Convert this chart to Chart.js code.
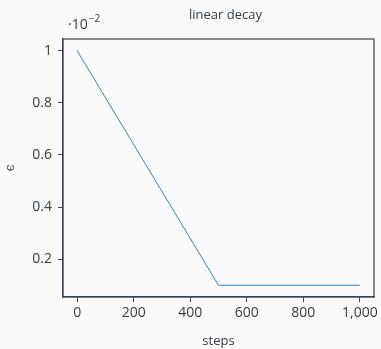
<!DOCTYPE html>
<html><head><meta charset="utf-8">
<script src="https://cdn.jsdelivr.net/npm/chart.js@4/dist/chart.umd.min.js"></script>
<style>html,body{margin:0;padding:0;background:#fafafa;}#wrap{width:381px;height:349px;}</style>
</head><body><div id="wrap"><canvas id="c"></canvas></div>
<script>
// values of epsilon in units of 1e-2
const steps = [0, 500, 1000];
const epsilon = [1.0, 0.1, 0.1];
const xTicks = [0, 200, 400, 600, 800, 1000];
const xTickLabels = ['0', '200', '400', '600', '800', '1,000'];
const yTicks = [0.2, 0.4, 0.6, 0.8, 1.0];
const yTickLabels = ['0.2', '0.4', '0.6', '0.8', '1'];

const AXIS = '#36444e';
const TEXT = '#333d45';
const FONT = "'Open Sans', 'Noto Sans', sans-serif";

const deco = {
  id: 'deco',
  beforeDraw(chart) {
    const ctx = chart.ctx;
    ctx.save();
    ctx.fillStyle = '#fafafa';
    ctx.fillRect(0, 0, chart.width, chart.height);
    ctx.restore();
  },
  afterDraw(chart) {
    const {ctx, chartArea: a} = chart;
    ctx.save();
    ctx.strokeStyle = AXIS;
    ctx.lineWidth = 1.2;
    ctx.strokeRect(a.left, a.top, a.right - a.left, a.bottom - a.top);
    ctx.fillStyle = TEXT;
    ctx.textBaseline = 'alphabetic';
    ctx.textAlign = 'center';
    ctx.font = '13px ' + FONT;
    ctx.fillText('linear decay', (a.left + a.right) / 2 + 7, 19);
    ctx.textAlign = 'left';
    ctx.font = '14px ' + FONT;
    ctx.fillText('\u00b710', 68, 29);
    const w = ctx.measureText('\u00b710').width;
    ctx.font = '10px ' + FONT;
    ctx.fillText('\u22122', 68 + w + 1, 22);
    ctx.restore();
  }
};

new Chart(document.getElementById('c'), {
  type: 'line',
  data: {
    datasets: [{
      data: steps.map((s, i) => ({x: s, y: epsilon[i]})),
      borderColor: '#3b80bf',
      borderWidth: 1,
      pointRadius: 0,
      tension: 0,
      fill: false
    }]
  },
  options: {
    responsive: true,
    maintainAspectRatio: false,
    animation: false,
    layout: {padding: {left: 0, top: 39, right: 7, bottom: 0}},
    plugins: {legend: {display: false}, tooltip: {enabled: false}, title: {display: false}},
    scales: {
      x: {
        type: 'linear',
        min: -50, max: 1050,
        afterBuildTicks(s) { s.ticks = xTicks.map(v => ({value: v})); },
        afterFit(s) { s.height = 52; s.paddingRight = 0; },
        ticks: {
          color: TEXT, font: {family: FONT, size: 14}, padding: 3, maxRotation: 0, autoSkip: false,
          callback(v) { const i = xTicks.indexOf(v); return i >= 0 ? xTickLabels[i] : ''; }
        },
        grid: {drawOnChartArea: false, drawTicks: true, tickLength: 5, color: AXIS, lineWidth: 1},
        border: {display: true, color: AXIS, width: 1.2},
        title: {display: true, text: 'steps', color: TEXT, font: {family: FONT, size: 13}, padding: {top: 0, bottom: 0}}
      },
      y: {
        type: 'linear',
        min: 0.055, max: 1.045,
        afterBuildTicks(s) { s.ticks = yTicks.map(v => ({value: v})); },
        afterFit(s) { s.width = 63; },
        ticks: {
          color: TEXT, font: {family: FONT, size: 14}, padding: 6, autoSkip: false,
          callback(v) { const i = yTicks.findIndex(t => Math.abs(t - v) < 1e-9); return i >= 0 ? yTickLabels[i] : ''; }
        },
        grid: {drawOnChartArea: false, drawTicks: true, tickLength: 5, color: AXIS, lineWidth: 1},
        border: {display: true, color: AXIS, width: 1.2},
        title: {display: true, text: '\u03f5', color: TEXT, font: {family: "'DejaVu Serif', serif", size: 12}, padding: {top: 4, bottom: 0}}
      }
    }
  },
  plugins: [deco]
});
</script></body></html>
